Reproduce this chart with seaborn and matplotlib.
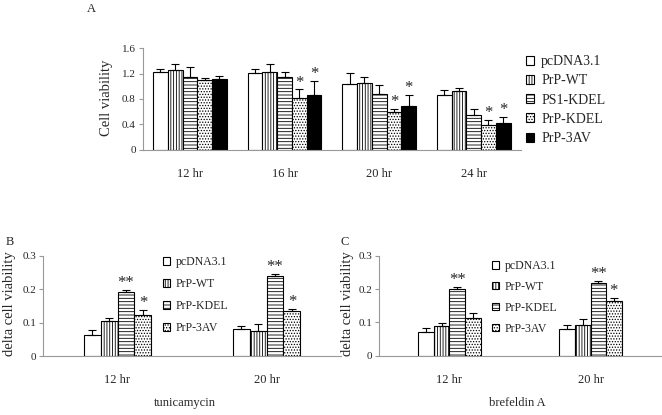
import numpy as np
import pandas as pd
import matplotlib
matplotlib.use("Agg")
import matplotlib.pyplot as plt
import seaborn as sns
from matplotlib.patches import Patch

# ---------------- data ----------------
times_a = ["12 hr", "16 hr", "20 hr", "24 hr"]
groups_a = ["pcDNA3.1", "PrP-WT", "PS1-KDEL", "PrP-KDEL", "PrP-3AV"]
vals_a = {
    "pcDNA3.1": [1.23, 1.21, 1.03, 0.87],
    "PrP-WT":   [1.26, 1.23, 1.06, 0.92],
    "PS1-KDEL": [1.14, 1.14, 0.88, 0.54],
    "PrP-KDEL": [1.10, 0.82, 0.60, 0.39],
    "PrP-3AV":  [1.12, 0.87, 0.69, 0.42],
}
err_a = {
    "pcDNA3.1": [0.05, 0.06, 0.18, 0.07],
    "PrP-WT":   [0.09, 0.13, 0.08, 0.06],
    "PS1-KDEL": [0.17, 0.08, 0.14, 0.10],
    "PrP-KDEL": [0.03, 0.13, 0.05, 0.08],
    "PrP-3AV":  [0.05, 0.22, 0.18, 0.10],
}
stars_a = {
    "pcDNA3.1": ["", "", "", ""],
    "PrP-WT":   ["", "", "", ""],
    "PS1-KDEL": ["", "", "", ""],
    "PrP-KDEL": ["", "*", "*", "*"],
    "PrP-3AV":  ["", "*", "*", "*"],
}

times_bc = ["12 hr", "20 hr"]
groups_bc = ["pcDNA3.1", "PrP-WT", "PrP-KDEL", "PrP-3AV"]
vals_b = {
    "pcDNA3.1": [0.062, 0.080],
    "PrP-WT":   [0.104, 0.076],
    "PrP-KDEL": [0.191, 0.238],
    "PrP-3AV":  [0.123, 0.134],
}
err_b = {
    "pcDNA3.1": [0.016, 0.009],
    "PrP-WT":   [0.010, 0.021],
    "PrP-KDEL": [0.006, 0.007],
    "PrP-3AV":  [0.014, 0.007],
}
stars_b = {
    "pcDNA3.1": ["", ""],
    "PrP-WT":   ["", ""],
    "PrP-KDEL": ["**", "**"],
    "PrP-3AV":  ["*", "*"],
}
vals_c = {
    "pcDNA3.1": [0.070, 0.081],
    "PrP-WT":   [0.089, 0.091],
    "PrP-KDEL": [0.199, 0.217],
    "PrP-3AV":  [0.112, 0.163],
}
err_c = {
    "pcDNA3.1": [0.014, 0.010],
    "PrP-WT":   [0.009, 0.019],
    "PrP-KDEL": [0.006, 0.007],
    "PrP-3AV":  [0.015, 0.009],
}
stars_c = {
    "pcDNA3.1": ["", ""],
    "PrP-WT":   ["", ""],
    "PrP-KDEL": ["**", "**"],
    "PrP-3AV":  ["", "*"],
}

styles = {
    "pcDNA3.1": dict(fc="white", hatch=""),
    "PrP-WT":   dict(fc="white", hatch="||||||"),
    "PS1-KDEL": dict(fc="white", hatch="-----"),
    "PrP-KDEL": dict(fc="white", hatch="-----"),
    "PrP-3AV":  dict(fc="white", hatch="......"),
}
styles_a = dict(styles)
styles_a["PrP-KDEL"] = dict(fc="white", hatch="......")
styles_a["PrP-3AV"] = dict(fc="black", hatch="")

# ---------------- style ----------------
sns.set_theme(style="white")
plt.rcParams["font.family"] = ["Liberation Serif", "DejaVu Serif"]
plt.rcParams["hatch.linewidth"] = 0.6
plt.rcParams["hatch.color"] = "black"

W, H = 662, 415
fig = plt.figure(figsize=(W / 100, H / 100), dpi=100)

def fx(px):
    return px / W

def fy(py):
    return 1 - py / H

def make_axes(l, t, r, b):
    return fig.add_axes([fx(l), fy(b), fx(r) - fx(l), fy(t) - fy(b)])

def panel(ax, times, groups, vals, errs, stars, stl, ylim, yticks, ylabels,
          width, star_fs):
    df = pd.DataFrame([
        dict(time=t, group=g, value=vals[g][i])
        for g in groups for i, t in enumerate(times)
    ])
    sns.barplot(data=df, x="time", y="value", hue="group", order=times,
                hue_order=groups, errorbar=None, width=width, ax=ax,
                legend=False, saturation=1)
    for g, cont in zip(groups, ax.containers):
        st = stl[g]
        for i, p in enumerate(cont.patches):
            p.set_facecolor(st["fc"])
            p.set_edgecolor("black")
            p.set_linewidth(0.8)
            p.set_hatch(st["hatch"])
            xc = p.get_x() + p.get_width() / 2
            h = p.get_height()
            e = errs[g][i]
            ax.errorbar([xc], [h], yerr=[[0], [e]], fmt="none", ecolor="black",
                        elinewidth=0.8, capsize=3, capthick=0.8)
            if stars[g][i]:
                ax.text(xc, h + e - ylim[1] * 0.01, stars[g][i],
                        ha="center", va="bottom", fontsize=star_fs)
    ax.set_xlim(-0.5, len(times) - 0.5)
    ax.set_ylim(*ylim)
    ax.set_yticks(yticks)
    ax.set_yticklabels(ylabels, fontsize=8)
    ax.set_xticks(range(len(times)))
    ax.set_xticklabels(times, fontsize=9)
    ax.set_xticks(np.arange(0.5, len(times) - 0.5, 1.0), minor=True)
    ax.tick_params(axis="x", which="major", length=0, pad=13)
    ax.tick_params(axis="x", which="minor", length=3, direction="in",
                   color="#999999", width=0.8)
    ax.tick_params(axis="y", length=3, direction="out", color="#999999",
                   width=0.8, pad=2, left=True)
    sns.despine(ax=ax)
    for s in ["left", "bottom"]:
        ax.spines[s].set_color("#999999")
        ax.spines[s].set_linewidth(0.8)
    ax.set_xlabel("")
    ax.set_ylabel("")
    ax.patch.set_alpha(0)

def legend(ax, groups, stl, anchor, fs, spacing):
    handles = [Patch(facecolor=stl[g]["fc"], edgecolor="black",
                     hatch=stl[g]["hatch"], linewidth=0.8, label=g)
               for g in groups]
    ax.legend(handles=handles, loc="upper left", bbox_to_anchor=anchor,
              bbox_transform=fig.transFigure, frameon=False, fontsize=fs,
              handlelength=0.6, handleheight=0.6, handletextpad=0.5,
              labelspacing=spacing, borderpad=0, borderaxespad=0)

# Panel A
axA = make_axes(142.7, 48.3, 521, 149.7)
panel(axA, times_a, groups_a, vals_a, err_a, stars_a, styles_a,
      (0, 1.6), [0, 0.4, 0.8, 1.2, 1.6], ["0", "0.4", "0.8", "1.2", "1.6"],
      0.78, 12)
legend(axA, groups_a, styles_a, (fx(526), fy(55)), 10, 0.45)
fig.text(fx(107), fy(98), "Cell viability", rotation=90, ha="center",
         va="center", fontsize=10.5)

# Panel B
axB = make_axes(43, 255.7, 341, 356)
panel(axB, times_bc, groups_bc, vals_b, err_b, stars_b, styles,
      (0, 0.3), [0, 0.1, 0.2, 0.3], ["0", "0.1", "0.2", "0.3"],
      0.455, 12)
legend(axB, groups_bc, styles, (fx(162.5), fy(256)), 8.5, 0.85)
fig.text(fx(9.5), fy(304), "delta cell viability", rotation=90, ha="center",
         va="center", fontsize=10.5)
fig.text(fx(185), fy(403), "tunicamycin", ha="center", va="center",
         fontsize=9)

# Panel C
axC = make_axes(379, 255.7, 661, 355.7)
panel(axC, times_bc, groups_bc, vals_c, err_c, stars_c, styles,
      (0, 0.3), [0, 0.1, 0.2, 0.3], ["0", "0.1", "0.2", "0.3"],
      0.44, 12)
legend(axC, groups_bc, styles, (fx(492), fy(260)), 8.5, 0.75)
fig.text(fx(348), fy(304), "delta cell viability", rotation=90, ha="center",
         va="center", fontsize=10.5)
fig.text(fx(517), fy(403), "brefeldin A", ha="center", va="center",
         fontsize=9)

# Panel letters
fig.text(fx(91), fy(9), "A", ha="center", va="center", fontsize=9)
fig.text(fx(10), fy(242), "B", ha="center", va="center", fontsize=9)
fig.text(fx(345), fy(242), "C", ha="center", va="center", fontsize=9)

fig.savefig("out.png", dpi=100, facecolor="white")
